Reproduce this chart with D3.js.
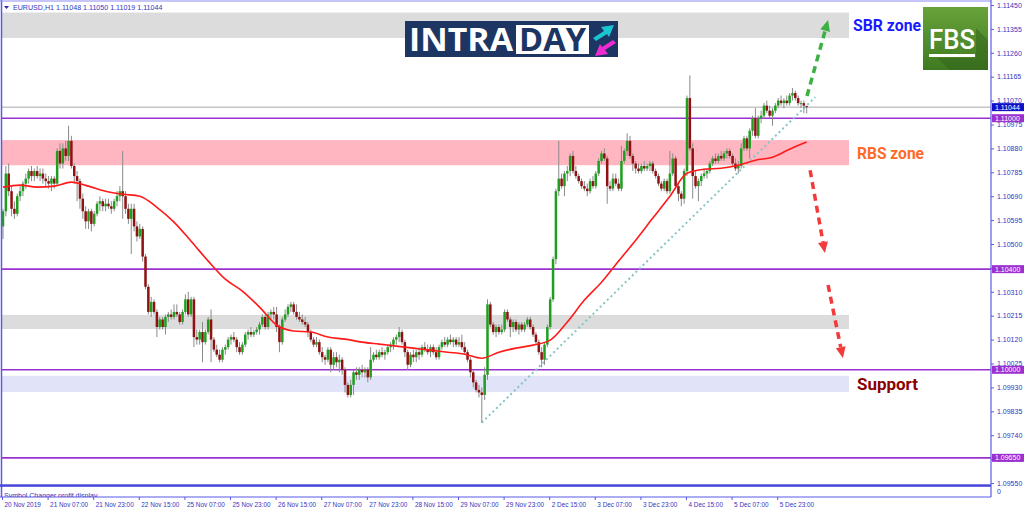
<!DOCTYPE html>
<html lang="en">
<head>
<meta charset="UTF-8">
<title>EURUSD,H1</title>
<script src="https://d3js.org/d3.v7.min.js"></script>
<style>
  html, body { margin: 0; padding: 0; background: #fff; }
  #chart svg { display: block; }
</style>
</head>
<body>
<div id="chart"></div>
<script>
// hourly candles, 20 Nov 15:00 -> 6 Dec 09:00
var opens = [
  1.1057,1.1063,1.1078,1.1071,1.1064,1.1062,1.1069,1.1071,1.1074,1.1076,
  1.1079,1.1077,1.1079,1.1077,1.1078,1.1076,1.1075,1.1074,1.1076,1.1074,
  1.1087,1.1082,1.1088,1.1085,1.1091,1.1081,1.1077,1.1075,1.1068,1.1063,
  1.1059,1.1063,1.1058,1.1062,1.1066,1.1067,1.1065,1.1066,1.1065,1.1064,
  1.1067,1.1069,1.1071,1.1069,1.1064,1.1060,1.1064,1.1057,1.1053,1.1056,
  1.1045,1.1033,1.1023,1.1027,1.1023,1.1017,1.1020,1.1017,1.1021,1.1022,
  1.1021,1.1023,1.1022,1.1019,1.1023,1.1028,1.1022,1.1028,1.1013,1.1012,
  1.1015,1.1011,1.1015,1.1020,1.1012,1.1008,1.1006,1.1004,1.1008,1.1009,
  1.1012,1.1013,1.1012,1.1009,1.1007,1.1010,1.1014,1.1015,1.1014,1.1015,
  1.1016,1.1018,1.1021,1.1017,1.1022,1.1023,1.1022,1.1017,1.1011,1.1020,
  1.1022,1.1025,1.1026,1.1023,1.1021,1.1020,1.1019,1.1018,1.1015,1.1012,
  1.1010,1.1011,1.1007,1.1005,1.1004,1.1008,1.1002,1.1005,1.1003,1.1004,
  1.1000,1.0994,1.0990,1.0994,1.0999,1.0998,1.1000,1.0999,1.1000,1.0997,
  1.1004,1.1006,1.1005,1.1007,1.1006,1.1007,1.1009,1.1010,1.1012,1.1013,
  1.1015,1.1011,1.1007,1.1002,1.1006,1.1005,1.1007,1.1006,1.1009,1.1008,
  1.1007,1.1009,1.1007,1.1005,1.1009,1.1011,1.1010,1.1012,1.1011,1.1012,
  1.1010,1.1011,1.1009,1.1007,1.1004,1.0999,1.0995,1.0992,1.0991,1.0990,
  1.0998,1.1026,1.1018,1.1015,1.1017,1.1015,1.1016,1.1023,1.1020,1.1017,
  1.1019,1.1016,1.1018,1.1016,1.1018,1.1020,1.1017,1.1014,1.1011,1.1007,
  1.1004,1.1010,1.1017,1.1028,1.1044,1.1071,1.1076,1.1073,1.1078,1.1079,
  1.1085,1.1079,1.1077,1.1075,1.1073,1.1072,1.1071,1.1075,1.1073,1.1078,
  1.1083,1.1086,1.1084,1.1073,1.1072,1.1076,1.1074,1.1072,1.1083,1.1087,
  1.1091,1.1085,1.1082,1.1080,1.1079,1.1081,1.1080,1.1081,1.1082,1.1079,
  1.1077,1.1074,1.1072,1.1075,1.1071,1.1078,1.1084,1.1073,1.1070,1.1068,
  1.1079,1.1108,1.1088,1.1077,1.1073,1.1075,1.1077,1.1078,1.1079,1.1082,
  1.1084,1.1083,1.1085,1.1084,1.1086,1.1087,1.1085,1.1082,1.1080,1.1081,
  1.1088,1.1092,1.1088,1.1095,1.1100,1.1093,1.1100,1.1101,1.1105,1.1103,
  1.1101,1.1103,1.1105,1.1107,1.1106,1.1107,1.1106,1.1109,1.1110,1.1108,
  1.1106,1.1106,1.11048
];
var highs = [
  1.1064,1.1081,1.1082,1.1073,1.1067,1.1070,1.1073,1.1075,1.1078,1.1080,
  1.1081,1.1080,1.1081,1.1080,1.1080,1.1078,1.1077,1.1077,1.1077,1.1088,
  1.1090,1.1090,1.1091,1.1097,1.1093,1.1082,1.1079,1.1076,1.1070,1.1065,
  1.1064,1.1064,1.1063,1.1067,1.1069,1.1068,1.1068,1.1068,1.1067,1.1068,
  1.1071,1.1073,1.1087,1.1071,1.1066,1.1066,1.1066,1.1059,1.1058,1.1057,
  1.1046,1.1034,1.1029,1.1028,1.1024,1.1021,1.1021,1.1022,1.1023,1.1024,
  1.1026,1.1026,1.1023,1.1024,1.1030,1.1031,1.1029,1.1029,1.1016,1.1016,
  1.1019,1.1016,1.1021,1.1024,1.1013,1.1010,1.1008,1.1009,1.1010,1.1013,
  1.1014,1.1015,1.1013,1.1011,1.1011,1.1015,1.1016,1.1017,1.1016,1.1017,
  1.1019,1.1022,1.1022,1.1023,1.1024,1.1025,1.1025,1.1018,1.1021,1.1024,
  1.1026,1.1027,1.1027,1.1026,1.1023,1.1022,1.1021,1.1019,1.1016,1.1013,
  1.1013,1.1012,1.1009,1.1006,1.1009,1.1009,1.1007,1.1007,1.1006,1.1005,
  1.1001,1.0995,1.0996,1.1000,1.1001,1.1001,1.1002,1.1001,1.1001,1.1009,
  1.1007,1.1008,1.1008,1.1009,1.1008,1.1010,1.1011,1.1013,1.1014,1.1017,
  1.1016,1.1012,1.1008,1.1007,1.1008,1.1008,1.1009,1.1010,1.1011,1.1010,
  1.1010,1.1010,1.1009,1.1010,1.1012,1.1013,1.1013,1.1014,1.1013,1.1013,
  1.1013,1.1014,1.1011,1.1008,1.1005,1.1000,1.0996,1.0994,1.0993,1.1001,
  1.1028,1.1027,1.1019,1.1018,1.1018,1.1018,1.1024,1.1024,1.1021,1.1020,
  1.1020,1.1019,1.1019,1.1019,1.1021,1.1021,1.1018,1.1015,1.1012,1.1009,
  1.1011,1.1018,1.1029,1.1045,1.1072,1.1091,1.1078,1.1079,1.1081,1.1086,
  1.1087,1.1081,1.1078,1.1076,1.1075,1.1074,1.1076,1.1077,1.1079,1.1084,
  1.1087,1.1088,1.1085,1.1075,1.1078,1.1078,1.1076,1.1089,1.1088,1.1094,
  1.1093,1.1086,1.1083,1.1082,1.1082,1.1083,1.1082,1.1083,1.1083,1.1080,
  1.1078,1.1075,1.1076,1.1076,1.1087,1.1086,1.1085,1.1074,1.1071,1.1080,
  1.1109,1.1117,1.1090,1.1079,1.1076,1.1078,1.1080,1.1080,1.1083,1.1085,
  1.1086,1.1086,1.1087,1.1087,1.1088,1.1088,1.1086,1.1084,1.1083,1.1090,
  1.1093,1.1093,1.1096,1.1101,1.1104,1.1101,1.1103,1.1106,1.1107,1.1105,
  1.1104,1.1106,1.1108,1.1109,1.1108,1.1109,1.1110,1.1112,1.1111,1.1109,
  1.1107,1.1107,1.11050
];
var lows = [
  1.1052,1.1061,1.1069,1.1061,1.1060,1.1061,1.1067,1.1069,1.1072,1.1074,
  1.1075,1.1075,1.1076,1.1075,1.1074,1.1073,1.1072,1.1071,1.1072,1.1073,
  1.1080,1.1080,1.1083,1.1083,1.1080,1.1074,1.1067,1.1064,1.1060,1.1056,
  1.1056,1.1055,1.1057,1.1061,1.1063,1.1063,1.1063,1.1064,1.1062,1.1063,
  1.1065,1.1067,1.1060,1.1062,1.1058,1.1046,1.1055,1.1051,1.1052,1.1043,
  1.1032,1.1022,1.1021,1.1022,1.1013,1.1016,1.1016,1.1014,1.1019,1.1020,
  1.1020,1.1021,1.1018,1.1018,1.1022,1.1021,1.1021,1.1009,1.1010,1.1010,
  1.1003,1.1010,1.1014,1.1003,1.1007,1.1005,1.1003,1.1003,1.1006,1.1008,
  1.1010,1.1011,1.1007,1.1006,1.1006,1.1009,1.1012,1.1013,1.1013,1.1014,
  1.1014,1.1017,1.1016,1.1016,1.1020,1.1020,1.1015,1.1007,1.1010,1.1019,
  1.1021,1.1023,1.1022,1.1020,1.1019,1.1018,1.1017,1.1013,1.1011,1.1009,
  1.1009,1.1006,1.1003,1.1002,1.1003,1.0999,1.1000,1.1001,1.0999,1.0998,
  1.0991,1.0989,1.0989,1.0990,1.0996,1.0996,1.0997,1.0997,1.0995,1.0996,
  1.1003,1.1004,1.1004,1.1005,1.1004,1.1006,1.1007,1.1008,1.1010,1.1011,
  1.1010,1.1005,1.1000,1.1001,1.1003,1.1003,1.1004,1.1005,1.1007,1.1006,
  1.1005,1.1006,1.1004,1.1004,1.1008,1.1009,1.1009,1.1010,1.1009,1.1009,
  1.1009,1.1008,1.1006,1.1003,1.0997,1.0993,1.0991,1.0989,1.0979,1.0988,
  1.0996,1.1017,1.1014,1.1013,1.1014,1.1014,1.1015,1.1019,1.1013,1.1015,
  1.1015,1.1014,1.1015,1.1015,1.1017,1.1016,1.1013,1.1010,1.1006,1.1001,
  1.1002,1.1009,1.1016,1.1027,1.1042,1.1069,1.1072,1.1069,1.1075,1.1077,
  1.1078,1.1076,1.1074,1.1072,1.1071,1.1069,1.1070,1.1072,1.1072,1.1077,
  1.1082,1.1083,1.1066,1.1071,1.1071,1.1073,1.1071,1.1071,1.1082,1.1085,
  1.1084,1.1079,1.1078,1.1078,1.1078,1.1079,1.1079,1.1079,1.1078,1.1076,
  1.1073,1.1071,1.1071,1.1070,1.1070,1.1077,1.1072,1.1067,1.1065,1.1066,
  1.1077,1.1087,1.1068,1.1072,1.1067,1.1073,1.1076,1.1076,1.1078,1.1081,
  1.1082,1.1082,1.1083,1.1083,1.1084,1.1084,1.1081,1.1079,1.1078,1.1080,
  1.1087,1.1087,1.1084,1.1093,1.1092,1.1092,1.1098,1.1100,1.1102,1.1100,
  1.1097,1.1102,1.1104,1.1105,1.1104,1.1105,1.1105,1.1107,1.1107,1.1105,
  1.1104,1.1102,1.11019
];
var closes = [
  1.1063,1.1078,1.1071,1.1064,1.1062,1.1069,1.1071,1.1074,1.1076,1.1079,
  1.1077,1.1079,1.1077,1.1078,1.1076,1.1075,1.1074,1.1076,1.1074,1.1087,
  1.1082,1.1088,1.1085,1.1091,1.1081,1.1077,1.1075,1.1068,1.1063,1.1059,
  1.1063,1.1058,1.1062,1.1066,1.1067,1.1065,1.1066,1.1065,1.1064,1.1067,
  1.1069,1.1071,1.1069,1.1064,1.1060,1.1064,1.1057,1.1053,1.1056,1.1045,
  1.1033,1.1023,1.1027,1.1023,1.1017,1.1020,1.1017,1.1021,1.1022,1.1021,
  1.1023,1.1022,1.1019,1.1023,1.1028,1.1022,1.1028,1.1013,1.1012,1.1015,
  1.1011,1.1015,1.1020,1.1012,1.1008,1.1006,1.1004,1.1008,1.1009,1.1012,
  1.1013,1.1012,1.1009,1.1007,1.1010,1.1014,1.1015,1.1014,1.1015,1.1016,
  1.1018,1.1021,1.1017,1.1022,1.1023,1.1022,1.1017,1.1011,1.1020,1.1022,
  1.1025,1.1026,1.1023,1.1021,1.1020,1.1019,1.1018,1.1015,1.1012,1.1010,
  1.1011,1.1007,1.1005,1.1004,1.1008,1.1002,1.1005,1.1003,1.1004,1.1000,
  1.0994,1.0990,1.0994,1.0999,1.0998,1.1000,1.0999,1.1000,1.0997,1.1004,
  1.1006,1.1005,1.1007,1.1006,1.1007,1.1009,1.1010,1.1012,1.1013,1.1015,
  1.1011,1.1007,1.1002,1.1006,1.1005,1.1007,1.1006,1.1009,1.1008,1.1007,
  1.1009,1.1007,1.1005,1.1009,1.1011,1.1010,1.1012,1.1011,1.1012,1.1010,
  1.1011,1.1009,1.1007,1.1004,1.0999,1.0995,1.0992,1.0991,1.0990,1.0998,
  1.1026,1.1018,1.1015,1.1017,1.1015,1.1016,1.1023,1.1020,1.1017,1.1019,
  1.1016,1.1018,1.1016,1.1018,1.1020,1.1017,1.1014,1.1011,1.1007,1.1004,
  1.1010,1.1017,1.1028,1.1044,1.1071,1.1076,1.1073,1.1078,1.1079,1.1085,
  1.1079,1.1077,1.1075,1.1073,1.1072,1.1071,1.1075,1.1073,1.1078,1.1083,
  1.1086,1.1084,1.1073,1.1072,1.1076,1.1074,1.1072,1.1083,1.1087,1.1091,
  1.1085,1.1082,1.1080,1.1079,1.1081,1.1080,1.1081,1.1082,1.1079,1.1077,
  1.1074,1.1072,1.1075,1.1071,1.1078,1.1084,1.1073,1.1070,1.1068,1.1079,
  1.1108,1.1088,1.1077,1.1073,1.1075,1.1077,1.1078,1.1079,1.1082,1.1084,
  1.1083,1.1085,1.1084,1.1086,1.1087,1.1085,1.1082,1.1080,1.1081,1.1088,
  1.1092,1.1088,1.1095,1.1100,1.1093,1.1100,1.1101,1.1105,1.1103,1.1101,
  1.1103,1.1105,1.1107,1.1106,1.1107,1.1106,1.1109,1.1110,1.1108,1.1106,
  1.1106,1.1105,1.11044
];

// red moving average, read every 6th bar
var maBars = [0,6,12,18,24,30,36,42,48,54,60,66,72,78,84,90,96,102,108,114,120,126,132,138,
  144,150,156,162,168,174,180,186,192,198,204,210,216,222,228,234,240,246,252,258,264,270,276,282];
var maValues = [1.10726,1.10734,1.10726,1.10730,1.10746,1.10730,1.10710,1.10698,1.10690,1.10646,
  1.10587,1.10511,1.10432,1.10360,1.10313,1.10249,1.10178,1.10154,1.10150,1.10130,
  1.10122,1.10110,1.10102,1.10094,1.10086,1.10078,1.10070,1.10062,1.10046,1.10070,
  1.10086,1.10098,1.10118,1.10190,1.10277,1.10348,1.10432,1.10515,1.10603,1.10690,
  1.10781,1.10797,1.10801,1.10813,1.10833,1.10845,1.10877,1.10905];

var tickBars = [0,16,32,48,64,80,96,112,128,144,160,176,192,208,224,240,256,272];
var tickLabels = ["20 Nov 2019","21 Nov 07:00","21 Nov 23:00","22 Nov 15:00","25 Nov 07:00",
  "25 Nov 23:00","26 Nov 15:00","27 Nov 07:00","27 Nov 23:00","28 Nov 15:00","29 Nov 07:00",
  "29 Nov 23:00","2 Dec 15:00","3 Dec 07:00","3 Dec 23:00","4 Dec 15:00","5 Dec 07:00","5 Dec 23:00"];
var priceTicks = [1.11450,1.11355,1.11260,1.11165,1.11070,1.10975,1.10880,1.10785,1.10690,1.10595,
  1.10500,1.10405,1.10310,1.10215,1.10120,1.10025,1.09930,1.09835,1.09740,1.09645,1.09550];

var levels = [1.11000, 1.10400, 1.10000, 1.09650];
var zoneTops = [1.11420, 1.10913, 1.10218, 1.09976];
var zoneBottoms = [1.11319, 1.10813, 1.10162, 1.09912];
var zoneNames = ["SBR zone", "RBS zone", "", "Support"];

var trendFrom = [168, 1.09790];
var trendTo = [285, 1.11084];
var arrowFrom = [[282.1, 1.11088], [283.2, 1.10793], [289.5, 1.10337]];
var arrowTo = [[289.5, 1.11390], [288.4, 1.10464], [294.7, 1.10047]];

// ---- drawing ----
var W = 1024, H = 511;
var axisX = 991, plotBottom = 485, subBottom = 497;
var blue = "#3535c0", frame = "#5a5ae6";
var zoneColors = ["#dcdcdc", "#ffb6c1", "#dcdcdc", "#e1e4f8"];
var labelColors = ["#1a1aff", "#ff6a28", "", "#8b0000"];
var fmt = d3.format(".5f");

var x = d3.scaleLinear().domain([0, 282]).range([3, 806.7]);
var y = d3.scaleLinear().domain([1.0955, 1.1145]).range([483, 5]);

var svg = d3.select("#chart").append("svg")
    .attr("width", W).attr("height", H)
    .style("font-family", "'Liberation Sans', Arial, sans-serif");

svg.append("rect").attr("width", W).attr("height", H).attr("fill", "#fff");

var defs = svg.append("defs");
defs.append("clipPath").attr("id", "plotClip").append("rect")
    .attr("x", 2).attr("y", 2).attr("width", axisX - 2).attr("height", plotBottom - 2);
defs.append("clipPath").attr("id", "subClip").append("rect")
    .attr("x", 2).attr("y", 487).attr("width", axisX - 2).attr("height", subBottom - 487);
var g1 = defs.append("linearGradient").attr("id", "fbsGrad")
    .attr("x1", 0).attr("y1", 0).attr("x2", 0).attr("y2", 1);
g1.append("stop").attr("offset", "0%").attr("stop-color", "#67a23a");
g1.append("stop").attr("offset", "100%").attr("stop-color", "#3f7a22");

var plot = svg.append("g").attr("clip-path", "url(#plotClip)");

// zones
plot.selectAll("rect.zone").data(zoneTops).join("rect")
    .attr("class", "zone")
    .attr("x", 0).attr("width", 849)
    .attr("y", function(d) { return y(d); })
    .attr("height", function(d, i) { return y(zoneBottoms[i]) - y(d); })
    .attr("fill", function(d, i) { return zoneColors[i]; });

// current price line
plot.append("line")
    .attr("x1", 0).attr("x2", axisX)
    .attr("y1", y(closes[282])).attr("y2", y(closes[282]))
    .attr("stroke", "#a8a8a8").attr("stroke-width", 1);

// horizontal levels
plot.selectAll("line.level").data(levels).join("line")
    .attr("class", "level")
    .attr("x1", 0).attr("x2", axisX)
    .attr("y1", function(d) { return y(d); }).attr("y2", function(d) { return y(d); })
    .attr("stroke", "#9b30d0").attr("stroke-width", 1.6);

// trend line (dotted)
plot.append("line")
    .attr("x1", x(trendFrom[0])).attr("y1", y(trendFrom[1]))
    .attr("x2", x(trendTo[0])).attr("y2", y(trendTo[1]))
    .attr("stroke", "#86c4c6").attr("stroke-width", 2)
    .attr("stroke-dasharray", "2,3");

// candles
var idx = d3.range(closes.length);
plot.append("g").selectAll("line").data(idx).join("line")
    .attr("x1", function(i) { return x(i); }).attr("x2", function(i) { return x(i); })
    .attr("y1", function(i) { return y(highs[i]); })
    .attr("y2", function(i) { return y(lows[i]); })
    .attr("stroke", "#8a8a8a").attr("stroke-width", 1);
plot.append("g").selectAll("rect").data(idx).join("rect")
    .attr("x", function(i) { return x(i) - 1.25; })
    .attr("width", 2.5)
    .attr("y", function(i) { return y(Math.max(opens[i], closes[i])); })
    .attr("height", function(i) { return Math.max(1, Math.abs(y(opens[i]) - y(closes[i]))); })
    .attr("fill", function(i) { return closes[i] >= opens[i] ? "#1f9e1f" : "#8e1212"; });

// moving average
plot.append("path")
    .datum(maBars)
    .attr("fill", "none").attr("stroke", "#ff1a1a").attr("stroke-width", 1.6)
    .attr("d", d3.line()
        .x(function(b) { return x(b); })
        .y(function(b, i) { return y(maValues[i]); })
        .curve(d3.curveMonotoneX));

// dashed arrows
function drawArrow(from, to, color) {
  var x0 = x(from[0]), y0 = y(from[1]), x1 = x(to[0]), y1 = y(to[1]);
  var a = Math.atan2(y1 - y0, x1 - x0);
  var len = 11, half = 5;
  var bx = x1 - len * Math.cos(a), by = y1 - len * Math.sin(a);
  plot.append("line")
      .attr("x1", x0).attr("y1", y0).attr("x2", bx).attr("y2", by)
      .attr("stroke", color).attr("stroke-width", 3.5)
      .attr("stroke-dasharray", "7,5");
  plot.append("path")
      .attr("d", "M" + x1 + "," + y1 +
        "L" + (bx + half * Math.sin(a)) + "," + (by - half * Math.cos(a)) +
        "L" + (bx - half * Math.sin(a)) + "," + (by + half * Math.cos(a)) + "Z")
      .attr("fill", color);
}
drawArrow(arrowFrom[0], arrowTo[0], "#3cb043");
drawArrow(arrowFrom[1], arrowTo[1], "#f23a3a");
drawArrow(arrowFrom[2], arrowTo[2], "#f23a3a");

// zone labels
zoneNames.forEach(function(name, i) {
  if (!name) return;
  var mid = (y(zoneTops[i]) + y(zoneBottoms[i])) / 2;
  svg.append("text")
      .attr("x", i === 0 ? 853 : 857).attr("y", mid + 6)
      .attr("font-family", "Roboto, 'Liberation Sans', sans-serif")
      .attr("font-weight", "bold").attr("font-size", 16)
      .attr("textLength", i === 0 ? 68 : (i === 1 ? 67 : 61))
      .attr("lengthAdjust", "spacingAndGlyphs")
      .attr("fill", labelColors[i]).text(name);
});

// INTRADAY badge
var badge = svg.append("g");
badge.append("rect").attr("x", 405).attr("y", 21).attr("width", 213).attr("height", 36).attr("fill", "#1c3563");
badge.append("rect").attr("x", 516).attr("y", 25).attr("width", 73).attr("height", 29).attr("fill", "#fff");
badge.append("text").attr("x", 409).attr("y", 51)
    .attr("font-family", "'Open Sans', Roboto, sans-serif").attr("font-weight", 700)
    .attr("font-size", 32).attr("fill", "#fff")
    .attr("textLength", 104).attr("lengthAdjust", "spacingAndGlyphs").text("INTRA");
badge.append("text").attr("x", 519).attr("y", 51)
    .attr("font-family", "'Open Sans', Roboto, sans-serif").attr("font-weight", 700)
    .attr("font-size", 32).attr("fill", "#1c3563")
    .attr("textLength", 67).attr("lengthAdjust", "spacingAndGlyphs").text("DAY");
badge.append("path").attr("d", "M593,38 L604,31 L601,27 L614,25 L609,37 L607,34 L596,41 Z").attr("fill", "#19c6cf");
badge.append("path").attr("d", "M616,43 L605,50 L608,54 L595,56 L600,44 L602,47 L613,40 Z").attr("fill", "#ee2bd0");

// FBS badge
var fbs = svg.append("g");
fbs.append("rect").attr("x", 923).attr("y", 7).attr("width", 65).attr("height", 63).attr("fill", "url(#fbsGrad)");
fbs.append("path").attr("d", "M976,28 L988,40 L988,70 L950,70 L937,58 L976,58 Z").attr("fill", "#2f5f18").attr("opacity", 0.45);
fbs.append("text").attr("x", 929).attr("y", 49)
    .attr("font-family", "Roboto, 'Liberation Sans', sans-serif").attr("font-weight", 500)
    .attr("font-size", 28).attr("fill", "#fff")
    .attr("textLength", 46).attr("lengthAdjust", "spacingAndGlyphs").text("FBS");
fbs.append("rect").attr("x", 929).attr("y", 54).attr("width", 46).attr("height", 3).attr("fill", "#fff");

// frame
svg.append("line").attr("x1", 1.5).attr("x2", 1.5).attr("y1", 0).attr("y2", subBottom).attr("stroke", frame).attr("stroke-width", 1.5);
svg.append("line").attr("x1", 0).attr("x2", axisX).attr("y1", 1).attr("y2", 1).attr("stroke", "#8c8cf0").attr("stroke-width", 1.2);
svg.append("rect").attr("x", 0).attr("y", 484.3).attr("width", axisX).attr("height", 2.5).attr("fill", "#4646dc");
svg.append("line").attr("x1", 0).attr("x2", axisX).attr("y1", subBottom).attr("y2", subBottom).attr("stroke", frame).attr("stroke-width", 1.2);
svg.append("line").attr("x1", axisX).attr("x2", axisX).attr("y1", 0).attr("y2", subBottom).attr("stroke", frame).attr("stroke-width", 1.2);

// sub window caption
svg.append("g").attr("clip-path", "url(#subClip)").append("text")
    .attr("x", 4).attr("y", 497.5).attr("font-size", 7).attr("fill", blue)
    .text("Symbol Changer profit display");

// header
svg.append("path").attr("d", "M4,6 L9,6 L6.5,9 Z").attr("fill", "#2a2aa8");
svg.append("text").attr("x", 13).attr("y", 10).attr("font-size", 7.1).attr("fill", blue)
    .text("EURUSD,H1  " + fmt(opens[282]) + " " + fmt(highs[282]) + " " + fmt(lows[282]) + " " + fmt(closes[282]));

// price axis
var yAxis = svg.append("g").attr("transform", "translate(" + axisX + ",0)")
    .call(d3.axisRight(y).tickValues(priceTicks).tickSize(3).tickPadding(3).tickFormat(fmt));
yAxis.select(".domain").remove();
yAxis.selectAll("line").attr("stroke", frame);
yAxis.selectAll("text").attr("fill", blue).attr("font-size", 7)
    .attr("font-family", "'Liberation Sans', Arial, sans-serif");
svg.append("text").attr("x", 997).attr("y", 494).attr("font-size", 7).attr("fill", blue).text("0");

// price tags
function tag(price, color) {
  var ty = y(price);
  svg.append("rect").attr("x", axisX + 1).attr("y", ty - 4).attr("width", 32).attr("height", 8).attr("fill", color);
  svg.append("text").attr("x", axisX + 4).attr("y", ty + 2.5).attr("font-size", 7)
      .attr("fill", "#fff").text(fmt(price));
}
levels.forEach(function(l) { tag(l, "#9b30d0"); });
tag(closes[282], "#1010c8");

// time axis
var xAxis = svg.append("g").attr("transform", "translate(-1," + subBottom + ")")
    .call(d3.axisBottom(x).tickValues(tickBars).tickSize(3)
      .tickFormat(function(d, i) { return tickLabels[i]; }));
xAxis.select(".domain").remove();
xAxis.selectAll("line").attr("stroke", frame);
xAxis.selectAll("text").attr("fill", blue).attr("font-size", 6.4)
    .attr("font-family", "'Liberation Sans', Arial, sans-serif")
    .attr("text-anchor", "start").attr("x", 2).attr("y", 5);
</script>
</body>
</html>
